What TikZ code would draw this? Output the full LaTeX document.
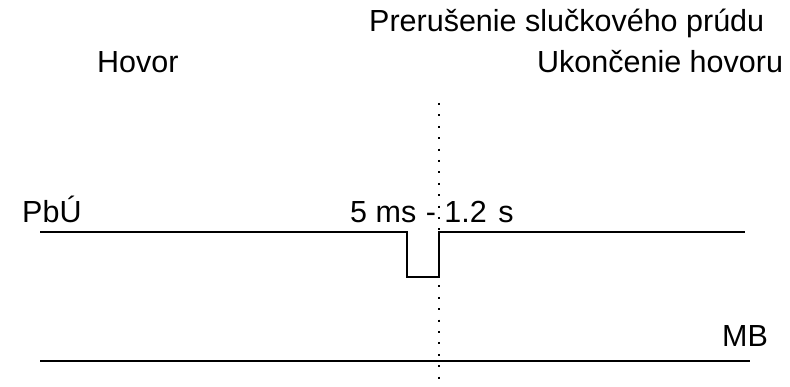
\documentclass[tikz,border=0pt]{standalone}
\usepackage{fontspec}
\setmainfont{Liberation Sans}
\begin{document}
\begin{tikzpicture}[x=1pt,y=-1pt,
  lbl/.style={anchor=base west,inner sep=0pt,font=\fontsize{30.5}{36}\selectfont},
  sig/.style={line width=1.6pt},
  dotln/.style={line width=2pt,dash pattern=on 2pt off 9.4pt}]
\useasboundingbox (0,0) rectangle (790,387);
\node[lbl] (prer) at (369,32) {Prerušenie slučkového prúdu};
\node[lbl] (hovor) at (97,73) {Hovor};
\node[lbl] (ukon) at (537,73) {Ukončenie hovoru};
\node[lbl] (pbu) at (22,223) {PbÚ};
\node[lbl] (time) at (350,223) {5 ms\hspace{1pt} - 1.2\hspace{3pt} s};
\node[lbl] (mb) at (722,346) {MB};
\coordinate (a0) at (40,232);
\coordinate (a1) at (407,232);
\coordinate (a2) at (407,277);
\coordinate (a3) at (439,277);
\coordinate (a4) at (439,232);
\coordinate (a5) at (745,232);
\draw[sig] (a0) -- (a1) -- (a2) -- (a3) -- (a4) -- (a5);
\coordinate (b0) at (40,361);
\coordinate (b1) at (750,361);
\draw[sig] (b0) -- (b1);
\coordinate (d0) at (439,103);
\coordinate (d1) at (439,387);
\draw[dotln] (d0) -- (d1);
\end{tikzpicture}
\end{document}
